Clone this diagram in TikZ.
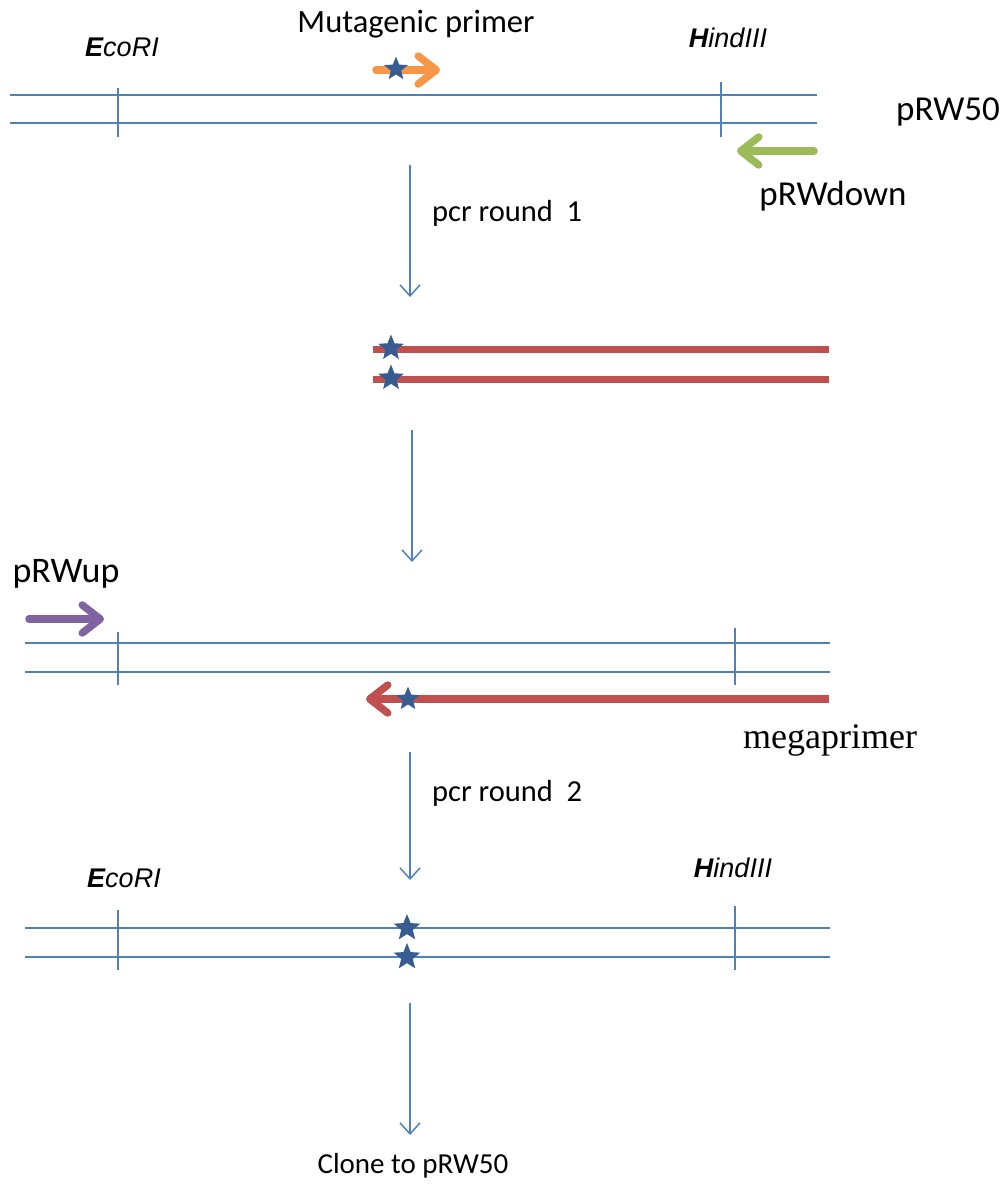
\documentclass[tikz,border=0pt]{standalone}
\usepackage{fontspec}
\setmainfont{Carlito}
\newfontfamily\arialfont{Liberation Sans}
\newfontfamily\timesfont{Liberation Serif}
\usetikzlibrary{arrows.meta,shapes.geometric}
\definecolor{dnablue}{HTML}{4F81BD}
\definecolor{megared}{HTML}{C0504D}
\definecolor{primorange}{HTML}{F79646}
\definecolor{primgreen}{HTML}{9BBB59}
\definecolor{primpurple}{HTML}{8064A2}
\definecolor{stardark}{HTML}{375C92}
\newcommand{\fs}[1]{\fontsize{#1}{#1}\selectfont}
\tikzset{
  strand/.style={draw=dnablue, line width=2pt},
  site/.style={draw=dnablue, line width=1.6pt},
  stepflow/.style={draw=dnablue, line width=1.5pt, -{Straight Barb[length=11pt,width=20pt]}},
  primerarrow/.style={line width=7.5pt, line cap=round, -{Straight Barb[round,length=18pt,width=28pt]}},
  redstrand/.style={draw=megared, line width=7pt},
  mutstar/.style={star, star points=5, star point ratio=2.3, fill=stardark, draw=none, inner sep=0pt, minimum size=27pt},
  lbl/.style={inner sep=0pt, text=black},
  enzyme/.style={lbl, font=\arialfont\itshape\fs{27}},
}
\begin{document}
\begin{tikzpicture}[x=1pt, y=-1pt]
\useasboundingbox (0,0) rectangle (1005,1192);

% ---- template plasmid pRW50 ----
\draw[strand] (10,95) -- (817,95);
\draw[strand] (10,123) -- (817,123);
\draw[site] (118,88) -- (118,137);
\draw[site] (721,82) -- (721,137);
\node[enzyme] (eco1) at (122,47) {\textbf{E}coRI};
\node[enzyme] (hind1) at (728,38) {\textbf{H}indIII};
\node[lbl, font=\fs{32.5}] (mutlbl) at (416,24) {Mutagenic primer};
\node[lbl, font=\fs{35}] (pRW50) at (948,112) {pRW50};

% mutagenic primer
\coordinate (mutA) at (376,70);
\coordinate (mutB) at (440,70);
\draw[primerarrow, primorange] (mutA) -- (mutB);
\node[mutstar, minimum size=25pt] (mstar) at (396,69) {};

% downstream primer
\coordinate (downA) at (814,151);
\coordinate (downB) at (737,151);
\draw[primerarrow, primgreen] (downA) -- (downB);
\node[lbl, font=\fs{35}] (downlbl) at (833,196) {pRWdown};

% ---- pcr round 1 ----
\coordinate (r1a) at (410,165);
\coordinate (r1b) at (410,297);
\draw[stepflow] (r1a) -- (r1b);
\node[lbl, font=\fs{30.5}, anchor=west] (round1) at (432,213) {pcr round\ \ 1};

% megaprimer product
\draw[redstrand] (373,349) -- (829,349);
\draw[redstrand] (373,379) -- (829,379);
\node[mutstar] (p1) at (391,348) {};
\node[mutstar] (p2) at (391,378) {};

\coordinate (r2a) at (412,430);
\coordinate (r2b) at (412,562);
\draw[stepflow] (r2a) -- (r2b);

% ---- second template with megaprimer ----
\node[lbl, font=\fs{36}] (uplbl) at (66,574) {pRWup};
\coordinate (upA) at (29,619);
\coordinate (upB) at (104,619);
\draw[primerarrow, primpurple] (upA) -- (upB);

\draw[strand] (25,643) -- (830,643);
\draw[strand] (25,672) -- (830,672);
\draw[site] (118,632) -- (118,685);
\draw[site] (735,628) -- (735,685);

\coordinate (megaA) at (829,699);
\coordinate (megaB) at (366,699);
\draw[primerarrow, megared, line cap=butt] (megaA) -- (megaB);
\node[mutstar, minimum size=25pt] (mgstar) at (408,699) {};
\node[lbl, font=\timesfont\fs{36}] (megalbl) at (830,740) {megaprimer};

% ---- pcr round 2 ----
\coordinate (r3a) at (410,752);
\coordinate (r3b) at (410,880);
\draw[stepflow] (r3a) -- (r3b);
\node[lbl, font=\fs{30.5}, anchor=west] (round2) at (432,793) {pcr round\ \ 2};

% ---- mutated product ----
\node[enzyme] (eco2) at (124,878) {\textbf{E}coRI};
\node[enzyme] (hind2) at (733,868) {\textbf{H}indIII};
\draw[strand] (25,928) -- (830,928);
\draw[strand] (25,957) -- (830,957);
\draw[site] (118,910) -- (118,970);
\draw[site] (735,906) -- (735,970);
\node[mutstar, minimum size=28pt] (q1) at (407,928) {};
\node[mutstar, minimum size=28pt] (q2) at (407,957) {};

\coordinate (r4a) at (410,1003);
\coordinate (r4b) at (410,1135);
\draw[stepflow] (r4a) -- (r4b);
\node[lbl, font=\fs{29}] (clone) at (413,1166) {Clone to pRW50};
\end{tikzpicture}
\end{document}
